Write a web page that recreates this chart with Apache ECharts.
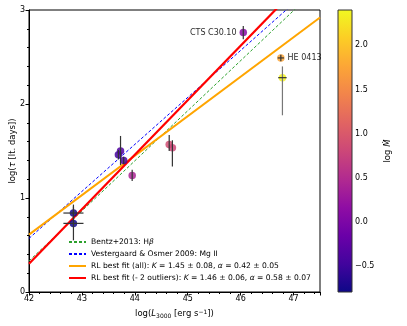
<!DOCTYPE html>
<html>
<head>
<meta charset="utf-8">
<script src="https://cdn.jsdelivr.net/npm/echarts@6/dist/echarts.min.js"></script>
<style>
    html, body { margin: 0; padding: 0; background: #fff; }
    #chart { width: 407px; height: 326px; }
</style>
</head>
<body>
<div id="chart"></div>
<script>
    // reverberation points: log L3000, log tau, log Mdot, errors
    const logL = [42.84, 42.84, 43.69, 43.73, 43.79, 43.95, 44.65, 44.71, 46.05, 46.76, 46.79];
    const logTau = [0.84, 0.73, 1.46, 1.50, 1.40, 1.24, 1.57, 1.535, 2.76, 2.49, 2.28];
    const logMdot = [-0.72, -0.76, -0.45, -0.35, -0.40, 0.42, 0.88, 0.80, 0.10, 1.75, 2.35];
    const xErr = [0.19, 0.19, 0, 0, 0, 0, 0, 0, 0, 0.06, 0.08];
    const yErrLo = [0.09, 0.18, 0.05, 0.15, 0.04, 0.06, 0.07, 0.20, 0.07, 0.035, 0.40];
    const yErrHi = [0.09, 0.18, 0.05, 0.16, 0.04, 0.06, 0.10, 0.08, 0.07, 0.035, 0.12];
    const ptLabels = ['', '', '', '', '', '', '', '', 'CTS C30.10', 'HE 0413', ''];

    // relation lines (end points)
    const bentzLine = [[42, 0.33], [47.5, 3.26]];
    const voLine = [[42, 0.57], [47.5, 3.32]];
    const fitAllLine = [[42, 0.61], [47.5, 2.92]];
    const fitCutLine = [[42, 0.30], [47.5, 3.49]];
    const lineNames = [
        'Bentz+2013: Hβ',
        'Vestergaard & Osmer 2009: Mg II',
        'RL best fit (all): K = 1.45 ± 0.08, α = 0.42 ± 0.05',
        'RL best fit (- 2 outliers): K = 1.46 ± 0.06, α = 0.58 ± 0.07'
    ];

    const xTicks = [42, 43, 44, 45, 46, 47];
    const yTicks = [0, 1, 2, 3];
    const cbTicks = [-0.5, 0, 0.5, 1, 1.5, 2];
    const cbMin = -0.79, cbMax = 2.40;

    const plasma = ['#0d0887', '#41049d', '#6a00a8', '#8f0da4', '#b12a90', '#cc4778',
                    '#e16462', '#f2844b', '#fca636', '#fcce25', '#f0f921'];

    const FONT = 'DejaVu Sans';
    let myChart = echarts.init(document.getElementById('chart'));

    let scatterData = logL.map(function (x, i) {
        let item = { value: [x, logTau[i], logMdot[i]] };
        if (ptLabels[i]) {
            item.label = {
                show: true,
                formatter: ptLabels[i],
                position: i === 8 ? 'left' : 'right',
                distance: 3,
                color: '#000',
                fontSize: 8,
                fontFamily: FONT
            };
        }
        return item;
    });
    let errData = logL.map(function (x, i) {
        return [x, logTau[i], xErr[i], yErrLo[i], yErrHi[i]];
    });

    function lineSeries(name, data, color, width, dashed, z) {
        return {
            name: name,
            type: 'line',
            xAxisIndex: 0,
            yAxisIndex: 0,
            data: data,
            symbol: 'none',
            clip: true,
            z: z,
            lineStyle: { color: color, width: width, type: dashed ? [3, 2] : 'solid' },
            itemStyle: { color: color },
            animation: false
        };
    }

    let option = {
        animation: false,
        textStyle: { fontFamily: FONT },
        grid: [
            { left: 29, top: 10, width: 291, height: 282, show: true, borderColor: '#000', borderWidth: 1,
              containLabel: false, outerBoundsMode: 'none' },
            { left: 338, top: 10, width: 14, height: 282, containLabel: false, outerBoundsMode: 'none' }
        ],
        legend: {
            orient: 'vertical',
            left: 68,
            top: 238,
            padding: 0,
            itemWidth: 17,
            itemHeight: 8,
            itemGap: 4,
            data: lineNames,
            itemStyle: { opacity: 0 },
            textStyle: {
                fontFamily: FONT,
                fontSize: 7.6,
                color: '#000',
                rich: {
                    i: { fontStyle: 'italic', fontSize: 7.6, fontFamily: FONT }
                }
            },
            formatter: function (name) {
                return name.replace('Hβ', 'H{i|β}')
                    .replace('K =', '{i|K} =')
                    .replace('α =', '{i|α} =');
            }
        },
        visualMap: {
            type: 'continuous',
            show: false,
            min: cbMin,
            max: cbMax,
            dimension: 2,
            seriesIndex: 4,
            inRange: { color: plasma }
        },
        xAxis: [
            {
                gridIndex: 0,
                type: 'value',
                min: 42,
                max: 47.5,
                interval: 1,
                name: '{n|log(}{i|L}{sub|3000}{n| [erg s}{sup|−1}{n|])}',
                nameLocation: 'middle',
                nameGap: 17,
                nameTextStyle: {
                    rich: {
                        n: { fontSize: 8.5, fontFamily: FONT, color: '#000' },
                        i: { fontSize: 8.5, fontFamily: FONT, fontStyle: 'italic', color: '#000' },
                        sub: { fontSize: 6, fontFamily: FONT, color: '#000', verticalAlign: 'bottom', padding: [4, 0, 0, 0] },
                        sup: { fontSize: 6, fontFamily: FONT, color: '#000', verticalAlign: 'top', padding: [0, 0, 4, 0] }
                    }
                },
                axisLine: { lineStyle: { color: '#000', width: 1 } },
                axisTick: { show: true, inside: false, length: 3.5, lineStyle: { color: '#000' } },
                minorTick: { show: true, splitNumber: 5, length: 2, lineStyle: { color: '#000' } },
                axisLabel: {
                    color: '#000', fontSize: 8, fontFamily: FONT, margin: 3,
                    customValues: xTicks
                },
                splitLine: { show: false }
            },
            {
                gridIndex: 1,
                type: 'value',
                min: 0,
                max: 1,
                show: false
            }
        ],
        yAxis: [
            {
                gridIndex: 0,
                type: 'value',
                min: 0,
                max: 3,
                interval: 1,
                name: '{n|log(}{i|τ}{n| [lt. days])}',
                nameLocation: 'middle',
                nameGap: 12,
                nameMoveOverlap: false,
                nameTextStyle: {
                    rich: {
                        n: { fontSize: 8.5, fontFamily: FONT, color: '#000' },
                        i: { fontSize: 8.5, fontFamily: FONT, fontStyle: 'italic', color: '#000' }
                    }
                },
                axisLine: { lineStyle: { color: '#000', width: 1 } },
                axisTick: { show: true, inside: false, length: 3.5, lineStyle: { color: '#000' } },
                minorTick: { show: true, splitNumber: 5, length: 2, lineStyle: { color: '#000' } },
                axisLabel: {
                    color: '#000', fontSize: 8, fontFamily: FONT, margin: 4,
                    customValues: yTicks
                },
                splitLine: { show: false }
            },
            {
                gridIndex: 1,
                type: 'value',
                position: 'right',
                min: cbMin,
                max: cbMax,
                name: '{n|log }{i|M\u0307}',
                nameLocation: 'middle',
                nameRotate: 90,
                nameGap: 31,
                nameTextStyle: {
                    rich: {
                        n: { fontSize: 8.5, fontFamily: FONT, color: '#000' },
                        i: { fontSize: 8.5, fontFamily: FONT, fontStyle: 'italic', color: '#000' }
                    }
                },
                axisLine: { show: false },
                axisTick: { show: true, length: 3, customValues: cbTicks, lineStyle: { color: '#000' } },
                axisLabel: {
                    color: '#000', fontSize: 8, fontFamily: FONT, margin: 3,
                    customValues: cbTicks,
                    formatter: function (v) {
                        return v < 0 ? '−' + Math.abs(v).toFixed(1) : v.toFixed(1);
                    }
                },
                splitLine: { show: false }
            }
        ],
        series: [
            lineSeries(lineNames[0], bentzLine, '#2ca02c', 1, true, 2),
            lineSeries(lineNames[1], voLine, '#0000ff', 1, true, 2),
            lineSeries(lineNames[2], fitAllLine, '#ffa500', 2, false, 3),
            lineSeries(lineNames[3], fitCutLine, '#ff0000', 2.2, false, 3),
            {
                type: 'scatter',
                xAxisIndex: 0,
                yAxisIndex: 0,
                symbol: 'circle',
                symbolSize: 7.5,
                itemStyle: { opacity: 0.85 },
                z: 4,
                data: scatterData
            },
            {
                type: 'custom',
                xAxisIndex: 0,
                yAxisIndex: 0,
                z: 5,
                data: errData,
                renderItem: function (params, api) {
                    let x = api.value(0), y = api.value(1);
                    let xe = api.value(2), ylo = api.value(3), yhi = api.value(4);
                    let children = [];
                    let style = { stroke: '#333', lineWidth: 1.2 };
                    if (ylo > 0 || yhi > 0) {
                        let p1 = api.coord([x, y - ylo]);
                        let p2 = api.coord([x, y + yhi]);
                        children.push({ type: 'line', shape: { x1: p1[0], y1: p1[1], x2: p2[0], y2: p2[1] },
                            style: { stroke: ylo > 0.3 ? '#777' : '#333', lineWidth: 1.2 } });
                    }
                    if (xe > 0) {
                        let p1 = api.coord([x - xe, y]);
                        let p2 = api.coord([x + xe, y]);
                        children.push({ type: 'line', shape: { x1: p1[0], y1: p1[1], x2: p2[0], y2: p2[1] }, style: style });
                    }
                    return { type: 'group', children: children };
                }
            },
            {
                // colorbar
                type: 'custom',
                xAxisIndex: 1,
                yAxisIndex: 1,
                data: [[0, cbMin, 1, cbMax]],
                renderItem: function (params, api) {
                    let p1 = api.coord([api.value(0), api.value(3)]);
                    let p2 = api.coord([api.value(2), api.value(1)]);
                    let stops = plasma.map(function (c, i) {
                        return { offset: 1 - i / (plasma.length - 1), color: c };
                    }).reverse();
                    return {
                        type: 'rect',
                        shape: { x: p1[0], y: p1[1], width: p2[0] - p1[0], height: p2[1] - p1[1] },
                        style: {
                            fill: new echarts.graphic.LinearGradient(0, 0, 0, 1, stops),
                            stroke: '#333',
                            lineWidth: 1
                        }
                    };
                }
            }
        ]
    };

    myChart.setOption(option);
    window.addEventListener('resize', myChart.resize);
</script>
</body>
</html>
